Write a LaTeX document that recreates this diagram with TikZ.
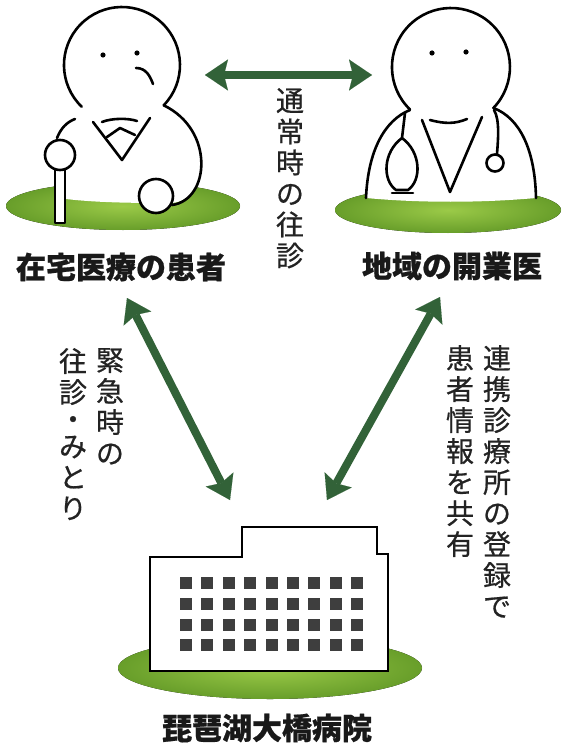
\documentclass[tikz,border=0pt]{standalone}
\usepackage{fontspec}
\newfontfamily\jp{Noto Sans CJK JP}[BoldFeatures={FakeBold=0.7}]
\newfontfamily\jpmid{Noto Sans CJK JP}[FakeBold=0.6]
\usetikzlibrary{arrows.meta,positioning}

\definecolor{lawn}{RGB}{155,202,72}
\definecolor{lawnedge}{RGB}{104,158,42}
\definecolor{arrowgreen}{RGB}{50,98,56}
\definecolor{ink}{RGB}{35,35,35}
\definecolor{window}{RGB}{62,62,62}

\begin{document}
\begin{tikzpicture}[
    x=1pt, y=-1pt,
    line join=round, line cap=round,
    stroke/.style={draw=black, line width=2.6pt},
    ground/.style={inner color=lawn, outer color=lawnedge},
    link/.style={{Stealth[length=23pt,width=31pt,inset=4pt,line width=0.1pt]}-{Stealth[length=23pt,width=31pt,inset=4pt,line width=0.1pt]},
        draw=arrowgreen, line width=8pt, line cap=butt},
    caption/.style={font=\jp\bfseries\fontsize{30}{30}\selectfont, text=black!90, inner sep=0pt},
    vtext/.style={font=\jpmid\fontsize{28}{31}\selectfont, text=ink, align=center, inner sep=0pt, anchor=north}
]
    \useasboundingbox[fill=white] (0,0) rectangle (564,746);

    % patient at home
    \fill[ground] (123,206) ellipse [x radius=117, y radius=24];
    \fill[white] (66,125) -- (66,199) .. controls (100,203) and (140,203) .. (172,203)
        .. controls (210,200) and (215,130) .. (164,105) -- cycle;
    \draw[stroke] (163.7,105.3) arc[start angle=44, end angle=-226, radius=58];
    \draw[stroke] (163.7,105.3) .. controls (215,130) and (210,200) .. (172,205);
    \draw[stroke] (57,138) .. controls (61,128) and (67,122) .. (75,119);
    \draw[stroke] (102,122) .. controls (112,118) and (128,118) .. (137,121);
    \draw[stroke] (93,122) -- (122,160) -- (150,118);
    \draw[stroke] (107,137) -- (120,128) -- (135,135);
    \fill (103,55) circle (2.6) (137,53) circle (2.6);
    \draw[stroke] (136,68) .. controls (146,68) and (150,76) .. (153,84);
    \draw[stroke, fill=white] (55,166) rectangle (65,223);
    \draw[stroke, fill=white] (60,155) circle (15);
    \draw[stroke, fill=white] (156,196) circle (17);
    \node[caption] (patient) at (121,267) {在宅医療の患者};

    % local doctor
    \fill[ground] (448,210) ellipse [x radius=113, y radius=23];
    \fill[white] (410,110) -- (493,108) .. controls (520,118) and (535,150) .. (536,198)
        .. controls (480,203) and (420,203) .. (366,198)
        .. controls (368,150) and (385,120) .. (410,110) -- cycle;
    \draw[stroke] (493.4,108) arc[start angle=44, end angle=-226, radius=59];
    \draw[stroke] (410,110) .. controls (385,120) and (368,150) .. (366,198);
    \draw[stroke] (493.4,108) .. controls (520,118) and (535,150) .. (536,198);
    \fill (432,53) circle (2.6) (466,52) circle (2.6);
    \draw[stroke] (430,120) .. controls (445,124) and (455,124) .. (467,119);
    \draw[stroke] (422,120) -- (450,192) -- (482,117);
    \draw[stroke] (405,113) -- (402,138);
    \draw[stroke] (402,138) .. controls (383,152) and (382,180) .. (396,190)
        -- (408,190) .. controls (422,180) and (421,152) .. (402,138);
    \draw[stroke] (392,193) -- (413,193);
    \draw[stroke] (494,110) .. controls (500,120) and (498,140) .. (497,154);
    \draw[stroke] (495,163) circle (8.5);
    \node[caption] (doctor) at (452,266) {地域の開業医};

    % hospital
    \fill[ground] (270,668) ellipse [x radius=152, y radius=31];
    \draw[stroke, line join=miter, fill=white] (150,671) -- (150,557) -- (242,557) -- (242,527)
        -- (377,527) -- (377,554) -- (388,554) -- (388,671) -- cycle;
    \foreach \c in {0,...,8}
        \foreach \r in {0,...,3}
            \fill[window] (180+\c*21.4, 577+\r*20.8) rectangle +(12,12);
    \node[caption] (hospital) at (267,728) {琵琶湖大橋病院};

    % connectors
    \coordinate (patTop) at (205,75);
    \coordinate (docTop) at (372,75);
    \coordinate (patLow) at (127,298);
    \coordinate (hosLeft) at (230,500);
    \coordinate (docLow) at (440,297);
    \coordinate (hosRight) at (327,500);
    \draw[link] (patTop) -- (docTop);
    \draw[link] (patLow) -- (hosLeft);
    \draw[link] (docLow) -- (hosRight);

    % vertical labels
    \node[vtext] (routine) at (290,88) {通\\常\\時\\の\\往\\診};
    \node[vtext] (urgent) at (110,348) {緊\\急\\時\\の};
    \node[vtext] (visit) at (73,348) {往\\診\\[-4pt]・\\[-4pt]み\\と\\り};
    \node[vtext] (register) at (497,345) {連\\携\\診\\療\\所\\の\\登\\録\\で};
    \node[vtext] (share) at (460,345) {患\\者\\情\\報\\を\\共\\有};
\end{tikzpicture}
\end{document}
